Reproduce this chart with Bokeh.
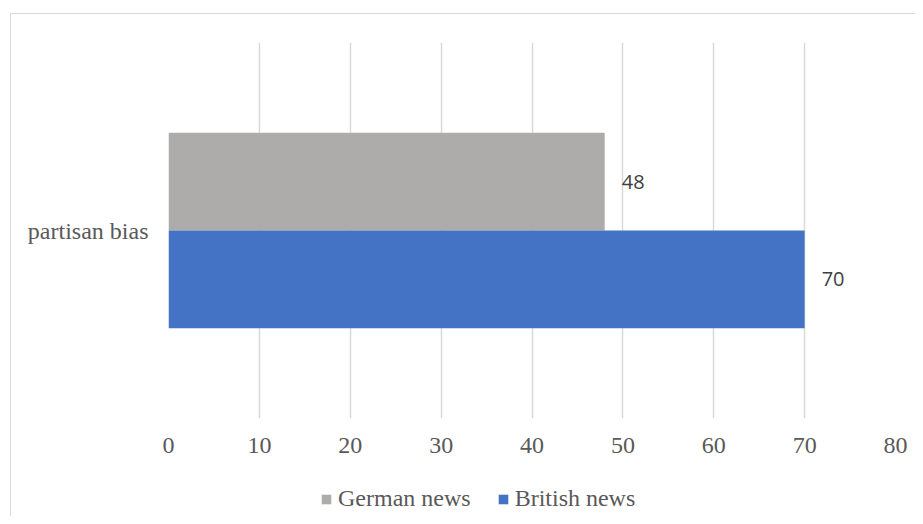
from bokeh.plotting import figure
from bokeh.layouts import column
from bokeh.models import ColumnDataSource, FactorRange, Range1d, FixedTicker, Legend, LegendItem
from bokeh.transform import dodge
from bokeh.core.properties import value
from bokeh.embed import file_html
from bokeh.resources import INLINE

# ---- data ----
categories = ["partisan bias"]
german_news = [48]
british_news = [70]
series_names = ["German news", "British news"]
series_colors = ["#AEABAB", "#4472C4"]
x_ticks = [0, 10, 20, 30, 40, 50, 60, 70, 80]

src = ColumnDataSource(dict(
    cat=categories,
    german=german_news,
    british=british_news,
    glabel=[str(v) for v in german_news],
    blabel=[str(v) for v in british_news],
))

SERIF = "Liberation Serif"
GRAY_TXT = "#595959"
W = 904
off = 0.13
h = 0.26

p = figure(
    width=W, height=456,
    y_range=FactorRange(factors=categories),
    x_range=Range1d(0, 80),
    output_backend="svg", toolbar_location=None,
    min_border_left=157, min_border_right=20, min_border_top=28, min_border_bottom=52,
)
p.outline_line_color = None
p.background_fill_color = "white"
p.border_fill_color = "white"

r_g = p.hbar(y=dodge("cat", off, range=p.y_range), right="german", left=0, height=h,
             source=src, fill_color=series_colors[0], line_color=None)
r_b = p.hbar(y=dodge("cat", -off, range=p.y_range), right="british", left=0, height=h,
             source=src, fill_color=series_colors[1], line_color=None)

p.text(x="german", y=dodge("cat", off, range=p.y_range), text="glabel", source=src,
       x_offset=17, text_align="left", text_baseline="middle",
       text_font=value("Open Sans"), text_font_size="20px", text_color="#404040")
p.text(x="british", y=dodge("cat", -off, range=p.y_range), text="blabel", source=src,
       x_offset=17, text_align="left", text_baseline="middle",
       text_font=value("Open Sans"), text_font_size="20px", text_color="#404040")

# axes
p.xaxis.ticker = FixedTicker(ticks=x_ticks)
for ax in (p.xaxis[0], p.yaxis[0]):
    ax.axis_line_color = None
    ax.major_tick_line_color = None
    ax.minor_tick_line_color = None
    ax.major_tick_out = 0
    ax.major_tick_in = 0
    ax.minor_tick_out = 0
    ax.minor_tick_in = 0
    ax.major_label_text_font = SERIF
    ax.major_label_text_font_size = "24px"
    ax.major_label_text_color = GRAY_TXT
p.xaxis.major_label_standoff = 19
p.yaxis.major_label_standoff = 20

p.xgrid.grid_line_color = "#d9d9d9"
p.xgrid.grid_line_width = 1.5
p.ygrid.grid_line_color = None

# ---- legend strip (frame aligns with the main plot's frame) ----
lg = figure(
    width=W, height=46, x_range=p.x_range, y_range=FactorRange(factors=categories),
    x_axis_type=None, y_axis_type=None,
    output_backend="svg", toolbar_location=None,
    min_border_left=0, min_border_right=0, min_border_top=0, min_border_bottom=0,
)
lg.outline_line_color = None
lg.grid.grid_line_color = None
lg.background_fill_color = "white"
lg.border_fill_color = "white"
lr_g = lg.hbar(y=dodge("cat", off, range=lg.y_range), right="german", left=0, height=h,
               source=src, fill_color=series_colors[0], line_color=None, visible=False)
lr_b = lg.hbar(y=dodge("cat", -off, range=lg.y_range), right="british", left=0, height=h,
               source=src, fill_color=series_colors[1], line_color=None, visible=False)

legend = Legend(
    items=[LegendItem(label=series_names[0], renderers=[lr_g]),
           LegendItem(label=series_names[1], renderers=[lr_b])],
    orientation="horizontal", location=(152, 4),
    padding=0, margin=0, spacing=26, label_standoff=6,
    glyph_width=12, glyph_height=12,
    label_text_font=SERIF, label_text_font_size="24px", label_text_color=GRAY_TXT,
    border_line_color=None, background_fill_alpha=0,
    inactive_fill_alpha=0,
)
lg.add_layout(legend, "center")

layout = column(p, lg, spacing=0, margin=(13, 0, 0, 10),
                styles={"border-left": "1px solid #d9d9d9", "border-top": "1px solid #d9d9d9"})

open("out.html", "w").write(file_html(layout, INLINE))
